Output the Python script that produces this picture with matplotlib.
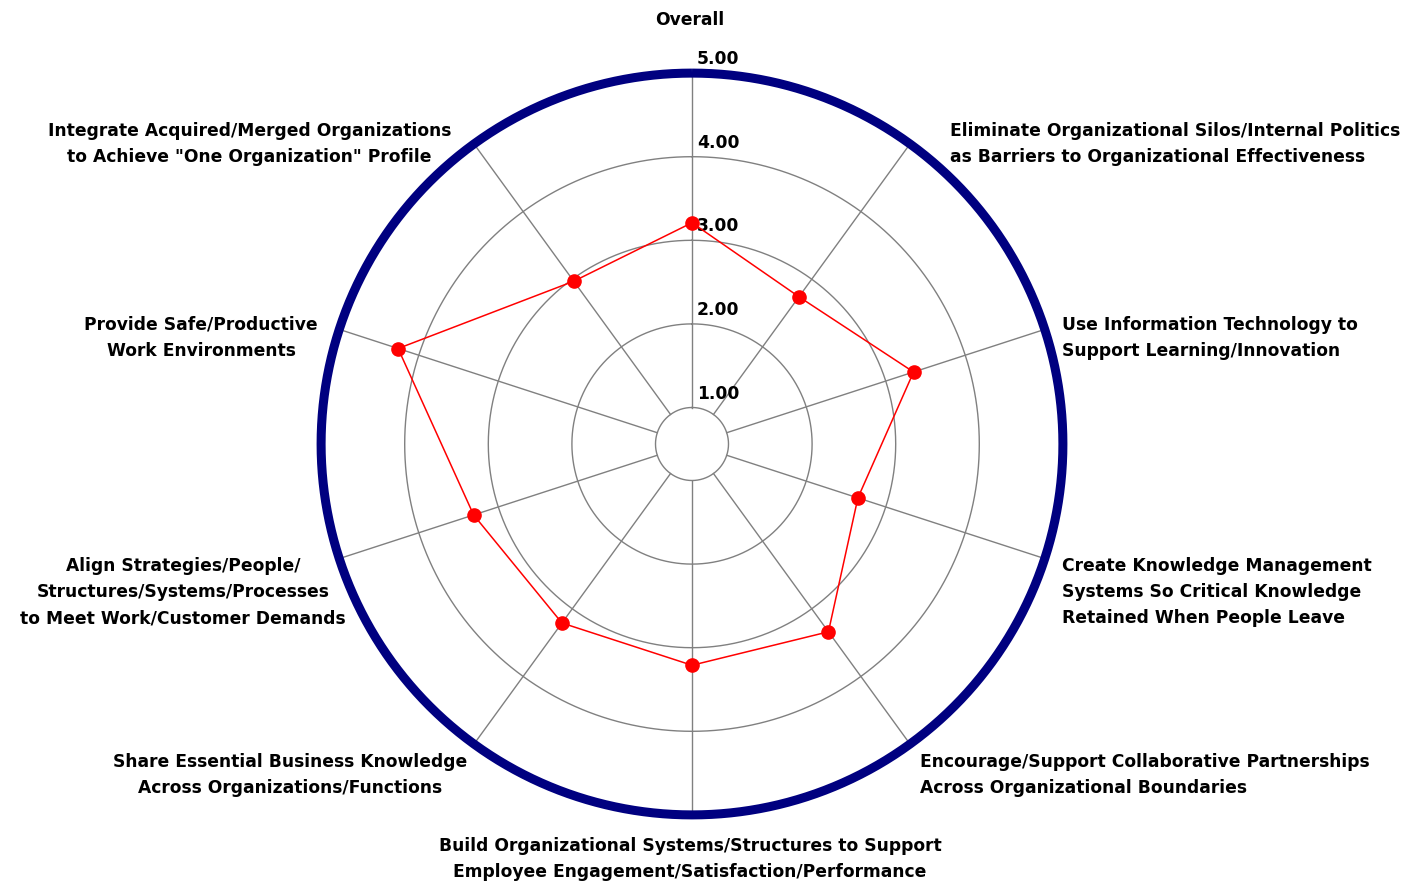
import numpy as np
import matplotlib
matplotlib.use("Agg")
import matplotlib.pyplot as plt

categories = [
    "Overall",
    "Eliminate Organizational Silos/Internal Politics\nas Barriers to Organizational Effectiveness",
    "Use Information Technology to\nSupport Learning/Innovation",
    "Create Knowledge Management\nSystems So Critical Knowledge\nRetained When People Leave",
    "Encourage/Support Collaborative Partnerships\nAcross Organizational Boundaries",
    "Build Organizational Systems/Structures to Support\nEmployee Engagement/Satisfaction/Performance",
    "Share Essential Business Knowledge\nAcross Organizations/Functions",
    "Align Strategies/People/\nStructures/Systems/Processes\nto Meet Work/Customer Demands",
    "Provide Safe/Productive\nWork Environments",
    "Integrate Acquired/Merged Organizations\nto Achieve \"One Organization\" Profile",
]
values = [3.21, 2.74, 3.35, 2.65, 3.34, 3.21, 3.21, 3.31, 4.26, 2.97]
ring_values = [1, 2, 3, 4, 5]
ring_labels = ["1.00", "2.00", "3.00", "4.00", "5.00"]

# layout (pixels in a 1410x883 canvas)
W, H = 1410, 883
CX, CY = 692, 444
PX_PER_UNIT = 83.6
R_ONE = 36.5
RMIN = 1 - R_ONE / PX_PER_UNIT
RMAX = 5.3
label_pos = [  # x, y, ha
    (690, 20, "center"),
    (950, 144, "left"),
    (1062, 338, "left"),
    (1062, 592, "left"),
    (920, 775, "left"),
    (690, 859, "center"),
    (467, 775, "right"),
    (346, 592, "right"),
    (318, 338, "right"),
    (451, 144, "right"),
]

FONT = "DejaVu Sans"
FS = 12.3

fig = plt.figure(figsize=(W / 100, H / 100), dpi=100)
R_AX = (RMAX - RMIN) * PX_PER_UNIT
ax = fig.add_axes([(CX - R_AX) / W, (H - CY - R_AX) / H, 2 * R_AX / W, 2 * R_AX / H],
                  projection="polar")
ax.set_theta_zero_location("N")
ax.set_theta_direction(-1)
ax.set_ylim(RMIN, RMAX)
ax.grid(False)
ax.spines["polar"].set_visible(False)
ax.set_xticks([])
ax.set_yticks([])
ax.patch.set_alpha(0)

n = len(categories)
angles = np.arange(n) * 2 * np.pi / n
tt = np.linspace(0, 2 * np.pi, 721)

for v in ring_values[:-1]:
    ax.plot(tt, np.full_like(tt, v), color="#808080", lw=1.0, zorder=1)
for a in angles:
    ax.plot([a, a], [ring_values[0], ring_values[-1]], color="#808080", lw=1.0, zorder=1)
ax.plot(tt, np.full_like(tt, ring_values[-1]), color="#000080", lw=6.5, zorder=2,
        solid_capstyle="butt")

for v, lab in zip(ring_values, ring_labels):
    ax.annotate(lab, xy=(0, v), xytext=(5, 5), textcoords="offset pixels",
                ha="left", va="bottom", fontsize=FS, fontweight="bold",
                family=FONT, color="black", zorder=3)

va_ang = np.append(angles, angles[0])
vv = values + values[:1]
ax.plot(va_ang, vv, color="#ff0000", lw=1.1, zorder=4)
ax.plot(angles, values, "o", color="#ff0000", ms=9.5, zorder=5)

for cat, (x, y, ha) in zip(categories, label_pos):
    fig.text(x / W, 1 - y / H, cat, ha=ha, va="center",
             multialignment="left" if ha == "left" else "center",
             fontsize=FS, fontweight="bold", family=FONT, linespacing=1.6)

fig.savefig("out.png", dpi=100)
